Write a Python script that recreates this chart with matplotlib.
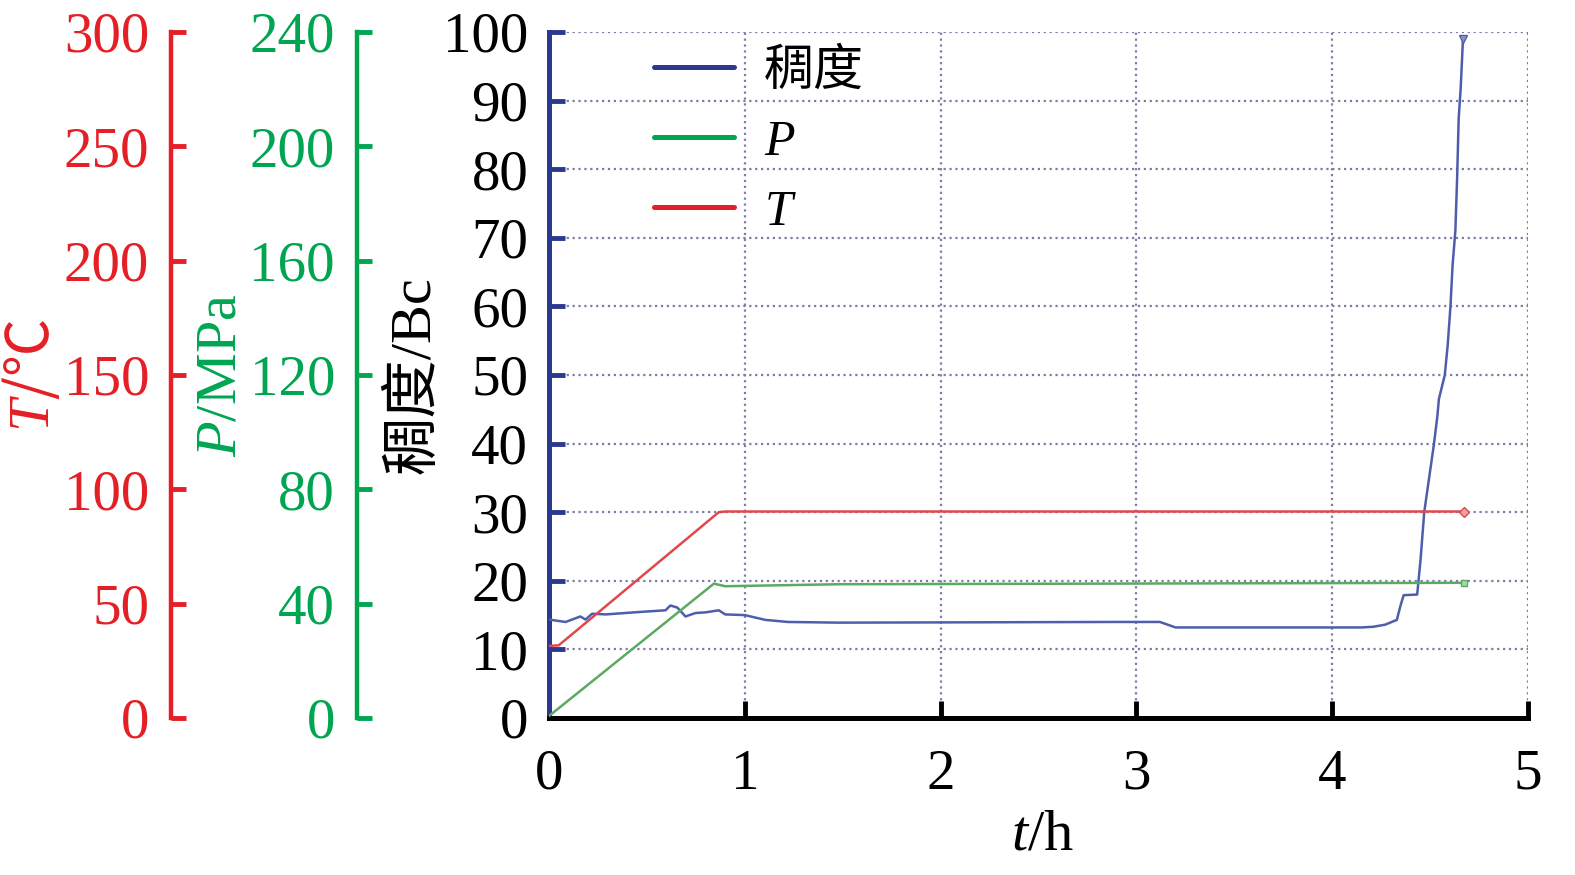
# Consistency, pressure and temperature vs time (thickening test)

import matplotlib.pyplot as plt
from matplotlib.lines import Line2D

plt.rcParams['font.family'] = ['Liberation Serif', 'Noto Sans CJK SC']
plt.rcParams['mathtext.fontset'] = 'custom'
plt.rcParams['mathtext.rm'] = 'Liberation Serif'
plt.rcParams['mathtext.it'] = 'Liberation Serif:italic'
plt.rcParams['mathtext.fallback'] = 'stix'

# Data
t_bc = [0.0, 0.085, 0.16, 0.187, 0.22, 0.29, 0.46, 0.595, 0.62, 0.655, 0.697,
        0.748, 0.80, 0.867, 0.90, 1.0, 1.105, 1.22, 1.48, 2.89, 3.12, 3.20,
        4.15, 4.21, 4.27, 4.33, 4.35, 4.365, 4.434, 4.451, 4.47, 4.495, 4.52,
        4.537, 4.545, 4.575, 4.59, 4.604, 4.615, 4.629, 4.638, 4.646, 4.656, 4.668]
bc = [14.35, 14.0, 14.8, 14.35, 15.2, 15.1, 15.45, 15.7, 16.4, 16.1, 14.8,
      15.3, 15.4, 15.7, 15.1, 15.0, 14.3, 14.0, 13.9, 14.0, 14.0, 13.2,
      13.2, 13.3, 13.6, 14.3, 16.5, 17.9, 18.0, 23.0, 30.0, 35.0, 40.0,
      44.0, 46.5, 50.0, 54.4, 60.0, 66.1, 71.0, 78.7, 87.4, 91.7, 99.0]

t_temp = [0.0, 0.05, 0.867, 0.90, 4.671]
temp = [31.5, 31.8, 90.0, 90.3, 90.3]

t_pres = [0.0, 0.842, 0.90, 1.48, 4.671]
pres = [0.7, 47.0, 46.1, 46.8, 47.3]

x_ticks = [0, 1, 2, 3, 4, 5]
bc_ticks = list(range(0, 101, 10))
temp_ticks = list(range(0, 301, 50))
pres_ticks = list(range(0, 241, 40))

blue = "#2b3990"
red = "#e41f26"
green = "#00a551"

fig = plt.figure(figsize=(15.75, 8.75), dpi=100)
ax = fig.add_axes([549 / 1575, 157 / 875, 979 / 1575, 686 / 875])

ax.plot(t_bc, bc, color="#4f5eaa", lw=1.8, zorder=3,
        marker="v", markevery=[-1], ms=6, mfc="#8b95c8")
ax.set_xlim(0, 5)
ax.set_ylim(0, 100)
ax.set_xticks(x_ticks)
ax.set_yticks(bc_ticks)
ax.grid(True, ls=":", color="#7c7ca6", lw=1.6)
for s in ["top", "right"]:
    ax.spines[s].set_visible(False)
ax.spines["left"].set_color(blue)
ax.spines["left"].set_linewidth(3.6)
ax.spines["bottom"].set_color("black")
ax.spines["bottom"].set_linewidth(3.6)
ax.tick_params(axis="y", direction="in", length=11.5, width=3.5, color=blue,
               pad=15, labelsize=41)
ax.tick_params(axis="x", direction="in", length=12, width=3.5, color="black",
               pad=22, labelsize=41)

ax.set_xlabel("$t$/h", fontsize=42, va="center")
ax.xaxis.set_label_coords(0.504, -0.172)
ax.set_ylabel("稠度/Bc", fontsize=42, va="center")
ax.yaxis.set_label_coords(-0.137, 0.5)

def side_axis(offset, color, lim, ticks, label, label_x, family=None):
    a = ax.twinx()
    for s in ["top", "right", "bottom"]:
        a.spines[s].set_visible(False)
    a.spines["left"].set_visible(True)
    a.spines["left"].set_position(("axes", offset))
    a.spines["left"].set_color(color)
    a.spines["left"].set_linewidth(3.2)
    a.yaxis.set_ticks_position("left")
    a.yaxis.set_label_position("left")
    a.set_ylim(*lim)
    a.set_yticks(ticks)
    a.tick_params(axis="y", direction="in", length=11, width=3.5, colors=color,
                  pad=16, labelsize=41)
    if family:
        a.set_ylabel(label, fontsize=42, color=color, va="center", family=family)
    else:
        a.set_ylabel(label, fontsize=42, color=color, va="center")
    a.yaxis.set_label_coords(label_x, 0.5)
    return a

ax_t = side_axis(-0.3857, red, (0, 300), temp_ticks, "$T$/℃", -0.5276,
                 family="Noto Sans CJK SC")
ax_p = side_axis(-0.1959, green, (0, 240), pres_ticks, "$P$/MPa", -0.3347)

ax_t.plot(t_temp, temp, color="#e0484d", lw=1.8, zorder=3,
          marker="D", markevery=[-1], ms=5, mfc="#f0a0a0")
ax_p.plot(t_pres, pres, color="#5aaa62", lw=1.8, zorder=3,
          marker="s", markevery=[-1], ms=5, mfc="#a8d8a8")

handles = [Line2D([], [], color=blue, lw=3.6, solid_capstyle="round"),
           Line2D([], [], color=green, lw=3.6, solid_capstyle="round"),
           Line2D([], [], color=red, lw=3.6, solid_capstyle="round")]
ax_p.legend(handles, ["稠度", "$P$", "$T$"], loc="upper left",
            bbox_to_anchor=(0.107, 0.975), frameon=False, fontsize=36,
            handlelength=1.6, handletextpad=0.6, labelspacing=0.47,
            borderpad=0, borderaxespad=0)

fig.savefig("out.png", dpi=100)
